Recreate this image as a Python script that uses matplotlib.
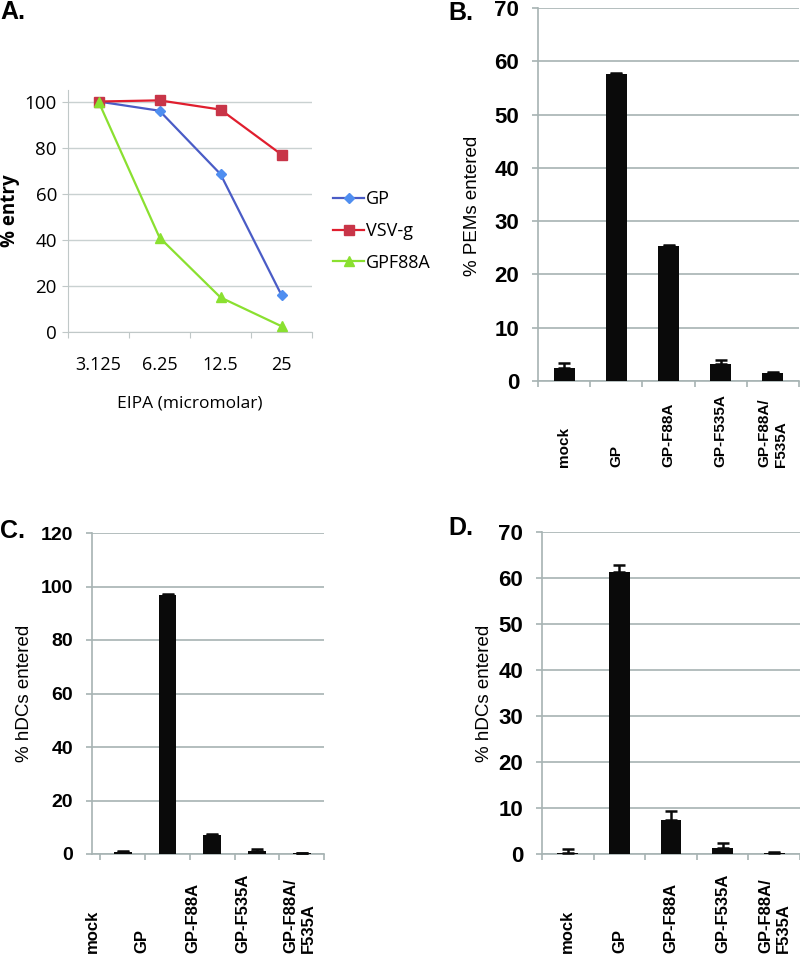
import matplotlib
matplotlib.use('Agg')
import matplotlib.pyplot as plt
import numpy as np

# panel A - EIPA dose response
eipa = ['3.125', '6.25', '12.5', '25']
entry_gp = [100, 96, 68.5, 16]
entry_vsvg = [100, 100.5, 96.5, 77]
entry_gpf88a = [100, 41, 15, 2.5]

# bar panels
mutantes = ['mock', 'GP', 'GP-F88A', 'GP-F535A', 'GP-F88A/\nF535A']
pems = [2.4, 57.7, 25.4, 3.2, 1.45]
pems_err = [0.9, 0.15, 0.15, 0.7, 0.15]
hdcs_c = [0.6, 96.9, 7.2, 1.1, 0.2]
hdcs_c_err = [0.6, 0.3, 0.3, 0.7, 0.1]
hdcs_d = [0.3, 61.4, 7.4, 1.4, 0.3]
hdcs_d_err = [0.8, 1.4, 2.0, 1.1, 0.05]

GRIS = '#a7b3b3'
W, H = 800, 958

fig = plt.figure(figsize=(8, 9.58), dpi=100)


def caja(l, t, r, b):
    # pixel box -> figure fraction
    return [l / W, 1 - b / H, (r - l) / W, (b - t) / H]


def barras(pos, valores, errores, ymax, paso, ylabel, pad_lbl, tam, tam_x, pad_yl,
           label_x=None):
    ax = fig.add_axes(pos)
    x = np.arange(len(valores))
    ax.bar(x, valores, width=0.4, color='#0a0a0a', zorder=3)
    ax.errorbar(x, valores, yerr=[np.zeros(len(errores)), errores], fmt='none',
                ecolor='#0a0a0a', elinewidth=1.8, capsize=4, capthick=1.8, zorder=4)
    ax.set_xlim(-0.5, len(valores) - 0.5)
    ax.set_ylim(0, ymax)
    yt = np.arange(0, ymax + 1, paso)
    ax.set_yticks(yt, [str(v) for v in yt], fontweight='bold', fontsize=tam)
    ax.yaxis.grid(True, color=GRIS, linewidth=1.2, zorder=0)
    ax.set_axisbelow(True)
    for s in ['top', 'right']:
        ax.spines[s].set_visible(False)
    ax.spines['left'].set_color(GRIS)
    ax.spines['bottom'].set_color(GRIS)
    ax.spines['left'].set_linewidth(1.2)
    ax.spines['bottom'].set_linewidth(1.2)
    ax.tick_params(axis='y', colors=GRIS, length=4.5, width=1.2, pad=9,
                   labelcolor='black')
    ax.set_xticks(np.arange(len(valores) + 1) - 0.5)
    ax.set_xticklabels([])
    ax.tick_params(axis='x', which='major', colors=GRIS, length=4, width=1.2)
    if label_x is None:
        label_x = x
    ax.set_xticks(label_x, mutantes, minor=True, rotation=90, va='bottom',
                  multialignment='left', fontweight='bold', fontsize=tam_x)
    ax.tick_params(axis='x', which='minor', length=0, pad=pad_lbl)
    ax.set_ylabel(ylabel, fontsize=13.5, labelpad=pad_yl)
    return ax


plt.rcParams['font.family'] = ['Liberation Sans', 'DejaVu Sans']

# ---- A ----
axa = fig.add_axes(caja(68, 90, 312, 332))
xa = np.arange(len(eipa))
axa.plot(xa, entry_gp, color='#4a5cc6', lw=1.6, marker='D', ms=5,
         mfc='#4f8ef0', mec='#4f8ef0', label='GP', zorder=3)
axa.plot(xa, entry_vsvg, color='#e01e2e', lw=1.6, marker='s', ms=7,
         mfc='#c83548', mec='#c83548', label='VSV-g', zorder=3)
axa.plot(xa, entry_gpf88a, color='#8ae030', lw=1.6, marker='^', ms=7,
         mfc='#8ae030', mec='#8ae030', label='GPF88A', zorder=3)
axa.set_xlim(-0.5, len(eipa) - 0.5)
axa.set_ylim(0, 105)
axa.set_yticks(range(0, 101, 20))
axa.yaxis.grid(True, color='#c9d1d1', linewidth=1)
axa.set_axisbelow(True)
for s in ['top', 'right']:
    axa.spines[s].set_visible(False)
axa.spines['left'].set_color('#c0c8c8')
axa.spines['bottom'].set_color('#c0c8c8')
axa.tick_params(axis='y', colors='#c0c8c8', length=4, labelcolor='black',
                labelsize=13.5, pad=4)
for t in axa.get_yticklabels():
    t.set_fontfamily('Open Sans')
axa.set_xticks(np.arange(len(eipa) + 1) - 0.5)
axa.set_xticklabels([])
axa.tick_params(axis='x', which='major', colors='#c0c8c8', length=4)
axa.set_xticks(xa, eipa, minor=True, fontsize=13, family='Open Sans')
axa.tick_params(axis='x', which='minor', length=0, pad=17)
axa.set_xlabel('EIPA (micromolar)', fontsize=12.5, family='Open Sans', labelpad=16)
axa.set_ylabel('% entry', fontsize=13.5, fontweight='bold', family='Open Sans', labelpad=3)
axa.legend(loc='center left', bbox_to_anchor=(326 / W, 1 - 231 / H),
           bbox_transform=fig.transFigure, frameon=False, handlelength=1.7,
           handletextpad=0.1, labelspacing=0.75, borderaxespad=0,
           prop={'family': 'Open Sans', 'size': 13})

# ---- B, C, D ----
axb = barras(caja(538, 8, 799, 381), pems, pems_err, 70, 10, '% PEMs entered',
             62, 16, 11, 10)
axb.yaxis.set_label_coords(-0.22, 0.47)
axc = barras(caja(92, 533, 324, 854), hdcs_c, hdcs_c_err, 120, 20, '% hDCs entered',
             71, 14, 12, 6, label_x=[-0.69, 0.43, 1.57, 2.69, 3.95])
axd = barras(caja(542, 532, 800, 854), hdcs_d, hdcs_d_err, 70, 10, '% hDCs entered',
             71, 16, 12, 4)

# panel letters
for letra, px, py in [('A.', 0, 12), ('B.', 448, 13), ('C.', 0, 531), ('D.', 448, 528)]:
    fig.text(px / W, 1 - py / H, letra, fontsize=18, fontweight='bold',
             ha='left', va='center')

fig.savefig('out.png', dpi=100)
